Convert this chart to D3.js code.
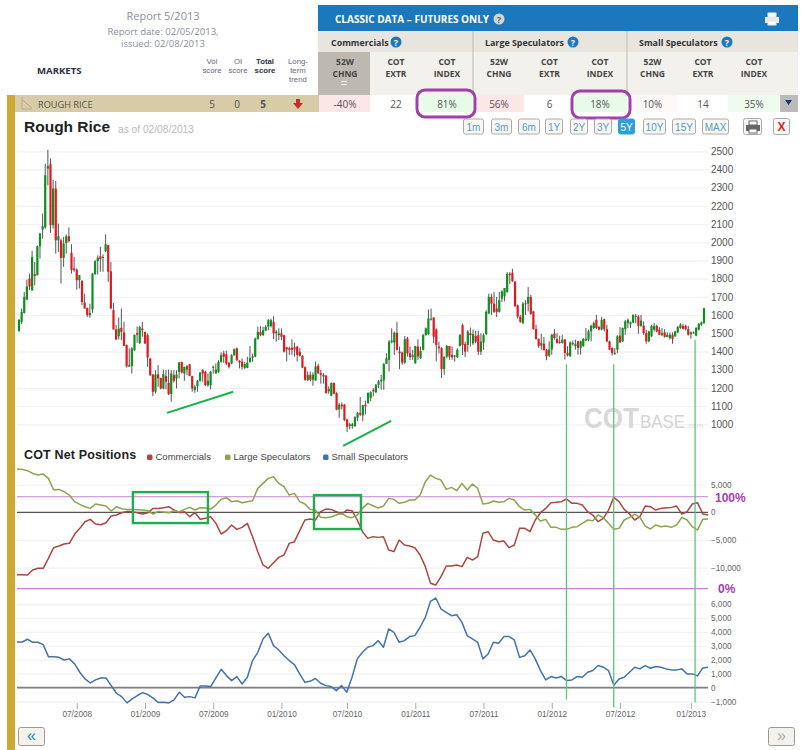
<!DOCTYPE html>
<html>
<head>
<meta charset="utf-8">
<title>Rough Rice COT</title>
<script src="https://cdn.jsdelivr.net/npm/d3@7"></script>
<style>
    html, body {margin: 0; padding: 0; background: #fff;}
    svg {display: block;}
</style>
</head>
<body>
<svg id="chart" width="805" height="750"></svg>
<script>
// weekly candles
const PRICE_OPEN = [1511,1563,1612,1685,1801,1737,1825,1819,1978,2070,2081,2405,2429,2094,2295,2011,2011,1914,1996,2033,1942,1856,1850,1792,1788,1669,1640,1600,1631,1825,1896,1923,1914,1951,1984,1841,1627,1521,1484,1530,1504,1437,1317,1320,1408,1501,1446,1526,1508,1490,1362,1274,1179,1274,1255,1197,1265,1228,1166,1270,1252,1288,1343,1279,1301,1329,1265,1188,1210,1239,1297,1288,1215,1215,1310,1279,1288,1343,1389,1385,1338,1334,1380,1417,1350,1345,1310,1310,1343,1365,1371,1468,1508,1490,1514,1536,1540,1563,1500,1490,1500,1490,1423,1418,1421,1423,1427,1399,1376,1314,1241,1272,1245,1241,1321,1281,1272,1267,1181,1157,1227,1172,1081,1108,1108,1026,990,990,990,1036,1063,1048,1108,1117,1145,1190,1176,1217,1236,1241,1332,1354,1451,1449,1503,1400,1394,1339,1472,1390,1370,1336,1427,1363,1409,1490,1496,1575,1587,1521,1427,1418,1303,1372,1430,1381,1372,1369,1430,1545,1441,1436,1500,1445,1485,1490,1399,1449,1496,1609,1700,1663,1636,1618,1690,1703,1727,1827,1833,1785,1654,1591,1554,1665,1663,1700,1620,1523,1469,1432,1443,1410,1378,1410,1498,1469,1452,1447,1465,1392,1374,1440,1430,1456,1420,1430,1460,1465,1510,1529,1574,1535,1520,1578,1523,1456,1419,1385,1410,1487,1456,1523,1556,1550,1559,1590,1592,1541,1541,1501,1456,1483,1520,1541,1520,1490,1505,1480,1474,1492,1483,1505,1529,1540,1541,1523,1495,1503,1487,1520,1547,1556];
const PRICE_HIGH = [1575,1636,1727,1795,1828,1953,1892,1982,2052,2158,2432,2509,2460,2344,2337,2103,2020,2030,2044,2081,1989,1920,1856,1819,1792,1718,1640,1663,1832,1902,1929,1975,1934,2044,1984,1892,1667,1545,1587,1636,1563,1437,1417,1423,1492,1537,1541,1563,1508,1499,1362,1274,1297,1325,1255,1301,1299,1301,1297,1297,1297,1343,1343,1316,1325,1331,1267,1215,1243,1285,1303,1294,1279,1294,1323,1334,1352,1395,1404,1404,1343,1385,1417,1422,1352,1362,1343,1371,1430,1389,1476,1536,1539,1536,1545,1579,1580,1594,1518,1527,1527,1490,1426,1427,1467,1449,1430,1418,1380,1318,1290,1290,1285,1345,1332,1299,1281,1272,1208,1230,1230,1176,1117,1121,1112,1030,1008,1008,1045,1067,1150,1108,1130,1176,1181,1199,1222,1245,1272,1336,1390,1463,1527,1509,1563,1427,1399,1485,1481,1427,1409,1430,1467,1427,1496,1532,1631,1636,1587,1527,1454,1423,1372,1436,1430,1427,1381,1418,1496,1554,1454,1518,1532,1521,1514,1514,1500,1500,1627,1718,1718,1727,1700,1727,1736,1749,1836,1836,1855,1785,1658,1600,1672,1682,1754,1711,1623,1547,1472,1498,1480,1414,1456,1496,1523,1501,1487,1492,1469,1429,1456,1460,1465,1456,1460,1474,1529,1520,1547,1565,1601,1541,1589,1581,1547,1460,1423,1419,1489,1534,1532,1574,1581,1565,1605,1607,1601,1601,1565,1520,1514,1547,1556,1547,1534,1529,1523,1505,1505,1505,1514,1541,1556,1552,1547,1541,1510,1510,1534,1556,1565,1640];
const PRICE_LOW = [1511,1550,1608,1682,1737,1733,1764,1819,1911,2020,2075,2313,2052,2075,1938,1947,1773,1865,1938,2000,1828,1838,1740,1746,1654,1636,1590,1585,1612,1821,1823,1838,1838,1947,1783,1636,1521,1462,1466,1462,1431,1312,1316,1278,1404,1448,1441,1481,1441,1316,1265,1155,1170,1206,1192,1192,1192,1160,1124,1230,1197,1252,1279,1239,1270,1265,1179,1173,1179,1234,1234,1210,1206,1192,1279,1279,1283,1338,1338,1325,1307,1330,1376,1349,1307,1301,1303,1308,1338,1343,1368,1466,1484,1486,1514,1517,1532,1467,1454,1463,1463,1395,1345,1381,1381,1372,1345,1372,1308,1239,1239,1236,1212,1239,1276,1223,1223,1168,1168,1154,1165,1077,1036,1081,1017,957,972,975,986,1017,1045,1017,1054,1113,1126,1154,1172,1199,1190,1190,1332,1290,1445,1381,1405,1303,1327,1332,1372,1354,1354,1332,1354,1358,1405,1487,1492,1570,1445,1345,1390,1254,1272,1363,1354,1354,1345,1363,1427,1381,1369,1399,1427,1436,1445,1381,1381,1409,1490,1605,1600,1612,1590,1614,1672,1676,1723,1770,1782,1645,1581,1558,1554,1600,1620,1601,1520,1465,1420,1410,1407,1352,1370,1383,1465,1443,1443,1443,1356,1373,1370,1432,1410,1383,1383,1426,1456,1456,1456,1523,1523,1516,1516,1510,1450,1407,1378,1383,1392,1447,1452,1492,1529,1529,1556,1556,1498,1534,1492,1443,1450,1480,1510,1505,1490,1485,1476,1478,1465,1443,1480,1501,1523,1520,1516,1487,1470,1498,1483,1516,1541,1552];
const PRICE_CLOSE = [1575,1618,1700,1758,1758,1920,1815,1978,2048,2088,2368,2418,2094,2295,2011,2033,1914,1993,2033,2006,1847,1847,1792,1819,1672,1636,1600,1612,1828,1896,1916,1907,1920,1989,1838,1636,1521,1466,1526,1508,1431,1319,1325,1417,1492,1492,1534,1517,1444,1367,1270,1179,1274,1252,1197,1276,1234,1166,1279,1239,1274,1340,1285,1316,1319,1265,1197,1206,1237,1285,1279,1215,1239,1288,1316,1301,1343,1380,1371,1334,1316,1380,1413,1352,1340,1316,1331,1338,1365,1373,1471,1508,1490,1517,1536,1572,1572,1500,1510,1500,1481,1399,1412,1409,1409,1412,1381,1376,1312,1245,1272,1245,1272,1318,1281,1272,1263,1172,1194,1227,1168,1081,1108,1099,1023,986,1000,1000,1039,1063,1054,1105,1099,1172,1176,1181,1217,1236,1245,1332,1363,1454,1460,1503,1409,1390,1339,1467,1390,1369,1380,1430,1372,1403,1490,1527,1582,1580,1481,1436,1418,1303,1372,1430,1372,1369,1378,1409,1490,1436,1399,1509,1490,1496,1454,1399,1454,1490,1618,1700,1663,1618,1618,1682,1730,1749,1827,1820,1787,1649,1591,1563,1663,1660,1700,1607,1523,1469,1432,1447,1407,1374,1410,1492,1474,1447,1447,1465,1392,1378,1450,1447,1440,1420,1456,1469,1470,1510,1541,1556,1529,1520,1574,1523,1456,1410,1392,1392,1483,1450,1529,1565,1574,1560,1601,1595,1541,1570,1501,1456,1510,1541,1541,1510,1492,1501,1480,1492,1492,1469,1510,1534,1547,1525,1523,1492,1505,1505,1529,1552,1560,1638];

// COT net positions, one reading about every two weeks
const COMMERCIALS = [-11260,-11260,-11320,-10410,-10110,-10110,-8310,-6380,-6080,-5720,-5600,-3970,-2890,-1690,-1260,-2110,-2230,-1870,-660,-480,-60,180,120,-60,-300,-60,720,720,840,1020,420,-60,120,-780,-60,-1260,-1080,-780,-1990,-3910,-3310,-2290,-3070,-2710,-1990,-4390,-7100,-9510,-10110,-9090,-8130,-7710,-5600,-5300,-3310,-1380,-1200,-1380,120,600,540,120,-300,420,300,-1380,-3490,-4700,-4390,-4520,-4390,-6800,-7100,-5000,-5900,-6080,-6380,-7710,-9810,-12820,-13120,-11620,-9690,-9690,-9510,-9810,-8130,-8610,-8010,-3790,-3490,-5000,-5300,-5180,-6380,-5900,-2890,-2890,-3490,-1380,-60,720,1750,1810,1930,2410,1630,1630,1320,120,-480,-1690,-1080,420,2710,1930,540,-300,-1380,-780,1140,1020,420,720,840,900,1140,-300,120,1510,1750,-300,-480];
const LARGE_SPECS = [7770,7770,7530,7040,6740,6920,6140,4030,4150,3730,3130,1930,1440,1020,720,1510,1320,1140,240,1020,660,540,540,480,420,300,-300,180,60,-60,300,120,540,900,420,840,780,600,1320,2350,2650,1930,2110,1750,1930,2110,4330,5240,6140,6440,5240,4640,3130,3430,1930,1510,540,420,-900,-960,-840,-480,-180,-780,-960,-480,720,1630,1200,780,1140,2530,2350,1630,1810,2230,2230,3130,5540,6740,6140,5840,4150,4520,3910,5240,4030,5120,4330,1510,1630,2050,1810,1930,2530,2230,1020,420,540,-480,-1570,-1260,-2710,-2710,-3070,-3070,-2710,-2590,-1990,-1380,-1500,-480,-960,-1990,-3070,-2890,-1380,-900,-300,-900,-2470,-3010,-2290,-2590,-2470,-2710,-2290,-900,-1380,-2590,-3190,-1260,-1200];
const SMALL_SPECS = [3270,3270,3470,3250,3250,3080,2220,2220,2170,1980,2060,1700,1100,620,330,550,690,690,140,-410,-650,-1100,-810,-570,-360,-500,-760,-1080,-1050,-1100,-880,-330,-690,-650,-740,120,120,70,690,1310,860,500,790,260,740,1940,2530,3490,3900,3010,2700,2290,1940,1650,980,380,450,650,310,140,70,-220,140,-330,740,2060,2530,2890,3010,3370,2890,4210,3970,3250,3370,3660,3730,4330,5040,6190,6430,5640,5400,5160,5230,4680,3730,3490,3250,2060,2410,3250,3180,3660,3660,3420,2170,2290,2700,2060,1220,550,790,690,790,500,550,790,740,1100,1220,1580,1460,1220,170,620,740,1100,1460,1340,1580,1390,1510,1460,1340,1270,1270,1340,980,980,840,1410,1460];

const PRICE_TICKS = d3.range(1000, 2501, 100);
const COT_TICKS = [-10000, -5000, 0, 5000];
const SMALL_TICKS = [-1000, 0, 1000, 2000, 3000, 4000, 5000, 6000];
const DATE_WEEKS = [22, 48, 74, 100, 125, 151, 177, 203, 229, 256];
const DATE_LABELS = ["07/2008", "01/2009", "07/2009", "01/2010", "07/2010", "01/2011", "07/2011", "01/2012", "07/2012", "01/2013"];
const LEGEND_NAMES = ["Commercials", "Large Speculators", "Small Speculators"];

// drawn by hand on the original screenshot, given here in data units
const COT_100 = 2820;
const COT_0 = -13790;
const TREND_LINES = [[56.4, 1063, 81.6, 1179], [123.5, 882, 141.8, 1019]];
const COT_BOXES = [[43.4, 72, 3660, -1930], [112.4, 130.3, 3120, -3010]];
const MARK_WEEKS = [208.6, 226.6, 257.6];
const MARK_TOPS = [1330, 1330, 1465];
const MARK_BOTTOMS = [-850, -1430, -1050];

const MARKET_COLUMNS = ["52W", "COT", "COT", "52W", "COT", "COT", "52W", "COT", "COT"];
const MARKET_COLUMNS2 = ["CHNG", "EXTR", "INDEX", "CHNG", "EXTR", "INDEX", "CHNG", "EXTR", "INDEX"];
const MARKET_VALUES = ["-40%", "22", "81%", "56%", "6", "18%", "10%", "14", "35%"];
const RANGE_NAMES = ["1m", "3m", "6m", "1Y", "2Y", "3Y", "5Y", "10Y", "15Y", "MAX"];

const RED = "#aa4643", GREEN = "#89a54e", BLUE = "#4572a7";
const PLOT_L = 17, PLOT_R = 708;
const TABLE_FONT = "Open Sans, sans-serif";
const CHART_FONT = "Liberation Sans, Arial, sans-serif";

const SVG = d3.select("#chart");
const X = d3.scaleLinear().domain([0, PRICE_CLOSE.length - 1]).range([19, 704]);
const X_COT = d3.scaleLinear().domain([0, COMMERCIALS.length - 1]).range([PLOT_L, PLOT_R]);
const Y_PRICE = d3.scaleLinear().domain([1000, 2500]).range([424.3, 151.3]);
const Y_COT = d3.scaleLinear().domain([-10000, 5000]).range([567.7, 484.7]);
const Y_SMALL = d3.scaleLinear().domain([-1000, 6000]).range([701.5, 604]);

/** 文字 **/
function draw_text(str, x, y, size, color, bold = false, anchor = "start", font = TABLE_FONT) {
    return SVG.append("text")
        .text(str)
        .attr("x", x)
        .attr("y", y)
        .attr("font-family", font)
        .attr("font-size", size)
        .attr("font-weight", bold ? "bold" : "normal")
        .attr("text-anchor", anchor)
        .attr("fill", color);
}

function draw_rect(x, y, w, h, fill) {
    return SVG.append("rect").attr("x", x).attr("y", y).attr("width", w).attr("height", h).attr("fill", fill);
}

function draw_help(x, y) {
    SVG.append("circle").attr("cx", x).attr("cy", y).attr("r", 5.5).attr("fill", "#1c78bd");
    draw_text("?", x, y + 3.5, 9, "#fff", true, "middle");
}

function draw_printer(x, y, color) {
    draw_rect(x + 3, y, 8, 4, "#fff").attr("stroke", color);
    draw_rect(x, y + 4, 14, 6, color);
    draw_rect(x + 3, y + 8, 8, 4, "#fff").attr("stroke", color);
}

/** 表头 **/
function draw_table() {
    draw_text("Report 5/2013", 163, 20, 11, "#8a8f99", false, "middle");
    draw_text("Report date: 02/05/2013,", 163, 35, 9.6, "#8a8f99", false, "middle");
    draw_text("issued: 02/08/2013", 163, 47, 9.5, "#8a8f99", false, "middle");
    draw_text("MARKETS", 37, 74, 9.6, "#2c3040", true);

    let score_x = [212, 238, 265, 298];
    let score_1 = ["Vol", "OI", "Total", "Long-"];
    let score_2 = ["score", "score", "score", "term"];
    score_x.forEach((x, i) => {
        draw_text(score_1[i], x, 64, 7.8, i === 2 ? "#2c3040" : "#667", i === 2, "middle", CHART_FONT);
        draw_text(score_2[i], x, 73, 7.8, i === 2 ? "#2c3040" : "#667", i === 2, "middle", CHART_FONT);
    });
    draw_text("trend", 298, 82, 7.8, "#667", false, "middle", CHART_FONT);

    draw_rect(318, 5, 480, 26, "#1c78bd");
    draw_rect(318, 31, 480, 21, "#e8e5de");
    draw_rect(318, 52, 480, 43, "#f3f1ec");
    draw_rect(318, 52, 52, 43, "#bdb9b0");
    draw_text("CLASSIC DATA \u2013 FUTURES ONLY", 335, 23, 10, "#fff", true);
    SVG.append("circle").attr("cx", 499).attr("cy", 19).attr("r", 5.5).attr("fill", "#d8d4c8");
    draw_text("?", 499, 22.5, 9, "#1c78bd", true, "middle");
    draw_printer(765, 13, "#e8e8e8");

    draw_text("Commercials", 331, 46, 8.9, "#333", true);
    draw_help(396, 42);
    draw_text("Large Speculators", 485, 46, 8.9, "#333", true);
    draw_help(573, 42);
    draw_text("Small Speculators", 639, 46, 8.9, "#333", true);
    draw_help(727, 42);
    [472.5, 626.5].forEach(x => draw_rect(x, 31, 1, 64, "#bdb9b0"));

    let col_x = [345, 396, 447, 499, 549.5, 600, 652.5, 703, 754];
    col_x.forEach((x, i) => {
        draw_text(MARKET_COLUMNS[i], x, 65, 8.5, "#444", true, "middle");
        draw_text(MARKET_COLUMNS2[i], x, 77, 8.5, "#444", true, "middle");
    });
    draw_rect(341, 81, 6, 1, "#eee");
    draw_rect(341, 84, 6, 1, "#eee");

    // 行
    draw_rect(15, 95, 304, 17, "#d8cba7");
    draw_rect(319, 95, 461, 17, "#fff");
    let cell_x = [319, 421, 477, 575, 632, 728];
    let cell_w = [51, 52, 47, 52, 45, 51];
    let cell_c = ["#fde6e6", "#e8fbe8", "#fde6e6", "#e8fbe8", "#fff6f6", "#eefbee"];
    cell_x.forEach((x, i) => draw_rect(x, 95, cell_w[i], 17, cell_c[i]));
    draw_rect(780, 95, 18, 17, "#bbb");
    SVG.append("path").attr("d", "M785 100L792 100L788.5 105Z").attr("fill", "#1c3a78");

    SVG.append("path").attr("d", "M22 97V109H32").attr("fill", "none").attr("stroke", "#bdb08c");
    SVG.append("path").attr("d", "M23 100L27 104L32 108").attr("fill", "none").attr("stroke", "#d9a090");
    draw_text("ROUGH RICE", 38, 108, 9.2, "#555");
    draw_text("5", 212, 108, 10, "#555", false, "middle");
    draw_text("0", 237, 108, 10, "#555", false, "middle");
    draw_text("5", 263, 108, 10, "#555", true, "middle");
    SVG.append("path").attr("d", "M296 99H300V103H303L298 109L293 103H296Z").attr("fill", "#d0262c");
    col_x.forEach((x, i) => draw_text(MARKET_VALUES[i], x, 108, 10, "#555", false, "middle"));

    // 紫色圈
    let ring_x = [417, 572];
    let ring_y = [90, 91];
    ring_x.forEach((x, i) => {
        SVG.append("rect")
            .attr("x", x).attr("y", ring_y[i]).attr("width", 58).attr("height", 27)
            .attr("rx", 8)
            .attr("fill", "none")
            .attr("stroke", "#a040a8")
            .attr("stroke-width", 3);
    });
}

function draw_buttons() {
    draw_text("Rough Rice", 24, 132, 15.5, "#222", true, "start", CHART_FONT);
    draw_text("as of 02/08/2013", 118, 133, 10.2, "#bbb", false, "start", CHART_FONT);
    let btn_x = [463, 491, 518, 545, 570, 594, 618, 643, 672, 702];
    let btn_w = [20, 20, 21, 17, 17, 17, 16, 22, 23, 26];
    RANGE_NAMES.forEach((name, i) => {
        let on = name === "5Y";
        SVG.append("rect")
            .attr("x", btn_x[i] + 0.5).attr("y", 119).attr("width", btn_w[i]).attr("height", 15)
            .attr("rx", 2)
            .attr("fill", on ? "#2a9fd8" : "#f7f7f4")
            .attr("stroke", on ? "#2a9fd8" : "#aaa");
        draw_text(name, btn_x[i] + btn_w[i] / 2 + 0.5, 130.5, 10, on ? "#fff" : "#5a9cc0", false, "middle", CHART_FONT);
    });
    SVG.append("rect").attr("x", 743.5).attr("y", 118.5).attr("width", 18).attr("height", 16).attr("rx", 2).attr("fill", "#f7f7f4").attr("stroke", "#aaa");
    draw_printer(746, 121, "#666");
    SVG.append("rect").attr("x", 773.5).attr("y", 118.5).attr("width", 16).attr("height", 16).attr("rx", 2).attr("fill", "#f7f7f4").attr("stroke", "#aaa");
    draw_text("X", 781.5, 131, 12, "#e8201c", true, "middle", CHART_FONT);
}

/** 坐标轴: 网格线 + 右侧标签 **/
function draw_axis(scale, ticks, fmt, size, color) {
    let axis = d3.axisRight(scale)
        .tickValues(ticks)
        .tickSize(PLOT_L - PLOT_R)
        .tickFormat(fmt);
    let g = SVG.append("g").attr("transform", `translate(${PLOT_R},0)`).call(axis);
    g.select(".domain").remove();
    g.selectAll("line").attr("stroke", "#f2f2f2").attr("stroke-width", 1.3);
    g.selectAll("text")
        .attr("x", 3)
        .attr("font-family", CHART_FONT)
        .attr("font-size", size)
        .attr("fill", color);
}

/** K线 **/
function draw_candles() {
    let idx = d3.range(PRICE_CLOSE.length);
    let g = SVG.append("g");
    g.selectAll("line").data(idx).join("line")
        .attr("x1", i => X(i)).attr("x2", i => X(i))
        .attr("y1", i => Y_PRICE(PRICE_HIGH[i])).attr("y2", i => Y_PRICE(PRICE_LOW[i]))
        .attr("stroke", "#555")
        .attr("stroke-width", 1);
    g.selectAll("rect").data(idx).join("rect")
        .attr("x", i => X(i) - 1.1)
        .attr("width", 2.2)
        .attr("y", i => Y_PRICE(Math.max(PRICE_OPEN[i], PRICE_CLOSE[i])))
        .attr("height", i => Math.max(1, Math.abs(Y_PRICE(PRICE_OPEN[i]) - Y_PRICE(PRICE_CLOSE[i]))))
        .attr("fill", i => PRICE_CLOSE[i] >= PRICE_OPEN[i] ? "#0f8f20" : "#e2191f");
}

function draw_watermark() {
    draw_text("COT", 584, 428, 30, "#d8d8d8", true, "start", CHART_FONT).attr("textLength", 55).attr("lengthAdjust", "spacingAndGlyphs");
    draw_text("BASE", 640, 428, 18, "#d4d4d4", false, "start", CHART_FONT).attr("textLength", 45).attr("lengthAdjust", "spacingAndGlyphs");
    draw_text(".com", 686, 428, 8, "#dcdcdc", false, "start", CHART_FONT);
}

function draw_series(values, scale, color) {
    let line = d3.line().x((d, i) => X_COT(i)).y(d => scale(d));
    SVG.append("path")
        .attr("d", line(values))
        .attr("fill", "none")
        .attr("stroke", color)
        .attr("stroke-width", 1.5)
        .attr("stroke-linejoin", "round");
}

function draw_hline(y, color, width) {
    SVG.append("line")
        .attr("x1", PLOT_L).attr("x2", PLOT_R)
        .attr("y1", y).attr("y2", y)
        .attr("stroke", color)
        .attr("stroke-width", width);
}

/** COT 面板 **/
function draw_cot() {
    draw_text("COT Net Positions", 24, 459, 12.5, "#222", true, "start", CHART_FONT).attr("letter-spacing", 0.15);
    let legend_x = [147, 225, 323];
    let legend_c = [RED, GREEN, BLUE];
    LEGEND_NAMES.forEach((name, i) => {
        SVG.append("rect")
            .attr("x", legend_x[i]).attr("y", 454.5).attr("width", 5.5).attr("height", 5.5)
            .attr("rx", 1.5)
            .attr("fill", legend_c[i]);
        draw_text(name, legend_x[i] + 8.5, 460, 9.5, "#444", false, "start", CHART_FONT);
    });

    draw_axis(Y_COT, COT_TICKS, d3.format(","), 8.2, "#666");
    draw_hline(Y_COT(COT_100), "#c77fcf", 1.2);
    draw_hline(Y_COT(COT_0), "#c77fcf", 1.2);
    draw_hline(Y_COT(0), "#555", 1.4);
    draw_series(COMMERCIALS, Y_COT, RED);
    draw_series(LARGE_SPECS, Y_COT, GREEN);
    draw_text("100%", 715, 501.5, 12, "#a03fb0", true, "start", CHART_FONT);
    draw_text("0%", 718, 592.5, 12, "#a03fb0", true, "start", CHART_FONT);

    draw_axis(Y_SMALL, SMALL_TICKS, d3.format(","), 8.2, "#666");
    draw_hline(Y_SMALL(0), "#808080", 1.8);
    draw_series(SMALL_SPECS, Y_SMALL, BLUE);
}

/** 手画的标注 **/
function draw_notes() {
    TREND_LINES.forEach(t => {
        SVG.append("line")
            .attr("x1", X(t[0])).attr("y1", Y_PRICE(t[1]))
            .attr("x2", X(t[2])).attr("y2", Y_PRICE(t[3]))
            .attr("stroke", "#18b04a")
            .attr("stroke-width", 2);
    });
    COT_BOXES.forEach(b => {
        SVG.append("rect")
            .attr("x", X(b[0])).attr("y", Y_COT(b[2]))
            .attr("width", X(b[1]) - X(b[0]))
            .attr("height", Y_COT(b[3]) - Y_COT(b[2]))
            .attr("fill", "none")
            .attr("stroke", "#1fae4f")
            .attr("stroke-width", 2.4);
    });
    MARK_WEEKS.forEach((w, i) => {
        SVG.append("line")
            .attr("x1", X(w)).attr("x2", X(w))
            .attr("y1", Y_PRICE(MARK_TOPS[i])).attr("y2", Y_SMALL(MARK_BOTTOMS[i]))
            .attr("stroke", "#58c878")
            .attr("stroke-width", 1.3);
    });
}

function draw_dates() {
    let axis = d3.axisBottom(X)
        .tickValues(DATE_WEEKS)
        .tickSize(6)
        .tickPadding(2)
        .tickFormat((d, i) => DATE_LABELS[i]);
    let g = SVG.append("g").attr("transform", "translate(0,703)").call(axis);
    g.select(".domain").remove();
    g.selectAll("line").attr("stroke", "#aaa");
    g.selectAll("text")
        .attr("font-family", CHART_FONT)
        .attr("font-size", 8.2)
        .attr("fill", "#666");
}

function draw_nav() {
    let nav_x = [18, 768];
    let nav_t = ["\u00ab", "\u00bb"];
    let nav_c = ["#2a7fc0", "#aaa"];
    nav_x.forEach((x, i) => {
        SVG.append("rect")
            .attr("x", x + 0.5).attr("y", 727.5).attr("width", 26).attr("height", 18)
            .attr("rx", 2)
            .attr("fill", "#f4f2ed")
            .attr("stroke", "#999");
        draw_text(nav_t[i], x + 13.5, 741, 16, nav_c[i], false, "middle", CHART_FONT);
    });
}

draw_table();
draw_rect(7, 95, 8, 655, "#cfa82f");
draw_buttons();
draw_axis(Y_PRICE, PRICE_TICKS, d3.format("d"), 10, "#555");
draw_watermark();
draw_candles();
draw_cot();
draw_dates();
draw_notes();
draw_nav();
</script>
</body>
</html>
